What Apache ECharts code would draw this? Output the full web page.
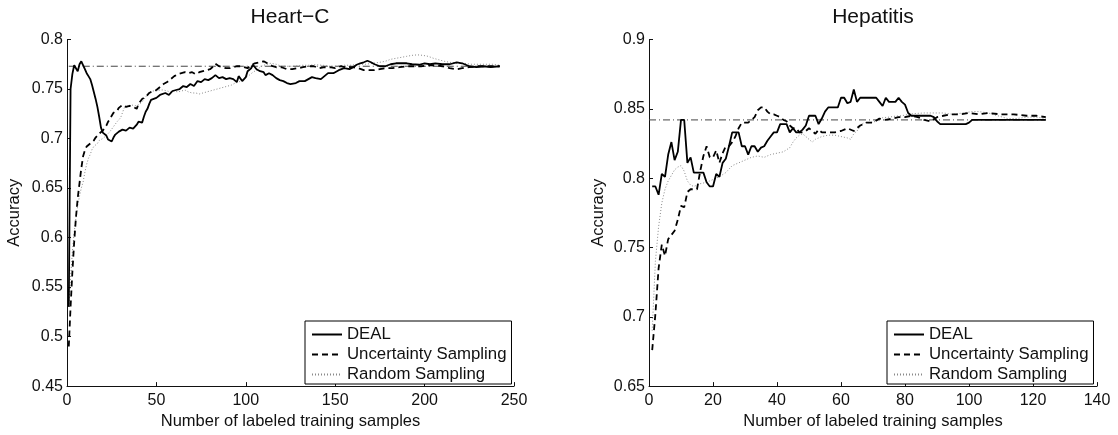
<!DOCTYPE html>
<html>
<head>
<meta charset="utf-8">
<script src="https://cdn.jsdelivr.net/npm/echarts@6/dist/echarts.min.js"></script>
<style>
  html, body { margin: 0; padding: 0; background: #fff; }
  #chart { width: 1118px; height: 435px; }
</style>
</head>
<body>
<div id="chart"></div>
<script>
// Accuracy vs. number of labeled training samples, two datasets.
const seriesNames = ['DEAL', 'Uncertainty Sampling', 'Random Sampling'];

// ---- Heart-C ----
const heartBaseline = 0.773;
const heartBaselineRange = [1, 242];
const heartDeal = [[1,0.53],[2,0.75],[3,0.765],[4,0.774],[5,0.772],[6,0.768],[7,0.775],[8,0.778],[9,0.777],[10,0.770],[11,0.766],[12,0.763],[13,0.760],[14,0.754],[15,0.747],[16,0.740],[17,0.732],[18,0.722],[19,0.711],[20,0.706],[21,0.705],[22,0.703],[23,0.699],[24,0.697],[25,0.697],[26,0.701],[27,0.704],[28,0.703],[29,0.707],[30,0.706],[31,0.709],[32,0.711],[33,0.708],[34,0.706],[35,0.711],[36,0.713],[37,0.710],[38,0.709],[39,0.714],[40,0.717],[41,0.719],[42,0.716],[43,0.722],[44,0.727],[45,0.730],[46,0.735],[47,0.739],[48,0.740],[50,0.741],[52,0.744],[53,0.742],[55,0.746],[57,0.744],[59,0.748],[61,0.749],[63,0.750],[65,0.753],[67,0.752],[69,0.755],[71,0.753],[73,0.758],[75,0.757],[77,0.760],[79,0.759],[81,0.761],[83,0.764],[85,0.761],[87,0.762],[89,0.760],[91,0.761],[93,0.760],[95,0.757],[96,0.763],[98,0.758],[100,0.762],[101,0.768],[103,0.771],[104,0.7745],[106,0.770],[108,0.768],[110,0.767],[111,0.764],[113,0.766],[115,0.764],[117,0.761],[119,0.759],[121,0.758],[123,0.756],[125,0.755],[126,0.754],[128,0.756],[130,0.758],[133,0.758],[135,0.760],[137,0.762],[139,0.761],[142,0.760],[144,0.763],[146,0.766],[149,0.766],[152,0.769],[155,0.771],[158,0.770],[160,0.772],[162,0.7745],[164,0.776],[166,0.777],[168,0.7785],[170,0.777],[172,0.775],[175,0.773],[178,0.773],[181,0.775],[184,0.776],[187,0.776],[190,0.776],[193,0.775],[197,0.7745],[200,0.776],[203,0.775],[206,0.776],[210,0.775],[214,0.775],[218,0.777],[221,0.776],[225,0.773],[229,0.772],[233,0.773],[237,0.772],[242,0.773]];
const heartUncertainty = [[1,0.49],[2,0.53],[3,0.565],[4,0.595],[5,0.62],[6,0.64],[7,0.655],[8,0.670],[9,0.682],[10,0.688],[11,0.692],[12,0.694],[13,0.695],[14,0.697],[15,0.698],[16,0.701],[17,0.703],[18,0.705],[20,0.708],[22,0.713],[23,0.717],[24,0.720],[25,0.723],[26,0.726],[28,0.728],[29,0.731],[31,0.734],[32,0.733],[33,0.732],[35,0.733],[36,0.734],[37,0.732],[39,0.730],[40,0.735],[42,0.740],[44,0.742],[46,0.746],[48,0.748],[50,0.749],[52,0.752],[54,0.755],[56,0.757],[58,0.760],[60,0.763],[62,0.765],[64,0.766],[66,0.767],[68,0.766],[70,0.767],[72,0.765],[74,0.767],[76,0.768],[78,0.769],[80,0.770],[82,0.773],[83,0.7755],[85,0.773],[87,0.772],[89,0.771],[91,0.771],[93,0.772],[95,0.773],[97,0.773],[99,0.772],[101,0.771],[103,0.774],[105,0.776],[108,0.777],[110,0.778],[112,0.776],[115,0.773],[117,0.772],[120,0.772],[123,0.770],[126,0.770],[129,0.771],[132,0.772],[135,0.773],[138,0.773],[141,0.771],[144,0.772],[147,0.772],[150,0.771],[153,0.773],[156,0.772],[160,0.772],[163,0.771],[166,0.769],[169,0.769],[172,0.769],[175,0.770],[178,0.771],[182,0.771],[186,0.772],[190,0.773],[194,0.773],[198,0.773],[202,0.774],[206,0.774],[210,0.773],[214,0.771],[218,0.770],[221,0.771],[225,0.772],[230,0.773],[236,0.773],[242,0.773]];
const heartRandom = [[1,0.53],[2,0.56],[3,0.585],[4,0.605],[5,0.62],[6,0.632],[7,0.642],[8,0.650],[9,0.656],[10,0.666],[11,0.674],[12,0.680],[13,0.684],[14,0.689],[15,0.692],[17,0.695],[18,0.698],[20,0.700],[22,0.703],[24,0.707],[26,0.712],[28,0.717],[30,0.721],[31,0.726],[32,0.731],[34,0.733],[36,0.734],[38,0.733],[40,0.734],[42,0.737],[44,0.742],[46,0.746],[48,0.748],[50,0.748],[52,0.749],[54,0.749],[56,0.748],[58,0.747],[60,0.748],[62,0.747],[64,0.748],[66,0.749],[68,0.747],[70,0.746],[72,0.746],[74,0.745],[76,0.746],[78,0.747],[80,0.748],[82,0.749],[84,0.750],[86,0.751],[88,0.752],[90,0.753],[92,0.754],[94,0.756],[96,0.757],[98,0.759],[100,0.762],[102,0.764],[104,0.767],[106,0.769],[108,0.772],[110,0.774],[112,0.775],[114,0.776],[117,0.775],[120,0.773],[123,0.773],[127,0.773],[131,0.774],[135,0.774],[139,0.7745],[143,0.774],[147,0.773],[151,0.773],[155,0.774],[159,0.774],[163,0.775],[167,0.775],[171,0.776],[175,0.777],[178,0.778],[181,0.780],[184,0.781],[187,0.782],[190,0.783],[193,0.784],[196,0.7845],[199,0.784],[202,0.783],[205,0.781],[208,0.7795],[211,0.778],[214,0.777],[218,0.776],[222,0.776],[226,0.775],[230,0.775],[234,0.775],[238,0.775],[242,0.774]];

// ---- Hepatitis ----
const hepBaseline = 0.842;
const hepBaselineRange = [0, 124];
const hepDeal = [[1,0.794],[2,0.794],[3,0.788],[4,0.803],[5,0.801],[6,0.817],[7,0.826],[8,0.813],[9,0.819],[10,0.842],[11,0.842],[12,0.811],[13,0.815],[14,0.804],[15,0.804],[16,0.804],[17,0.804],[18,0.797],[19,0.794],[20,0.794],[21,0.803],[22,0.801],[23,0.811],[24,0.814],[25,0.823],[26,0.833],[27,0.833],[28,0.833],[29,0.823],[30,0.823],[31,0.817],[32,0.823],[33,0.823],[34,0.819],[35,0.822],[36,0.823],[37,0.827],[38,0.830],[39,0.833],[40,0.833],[41,0.839],[42,0.839],[43,0.839],[44,0.833],[45,0.836],[46,0.833],[47,0.833],[48,0.835],[49,0.838],[50,0.845],[51,0.845],[52,0.845],[53,0.839],[54,0.843],[55,0.848],[56,0.851],[57,0.851],[58,0.851],[59,0.851],[60,0.858],[61,0.858],[62,0.854],[63,0.855],[64,0.864],[65,0.855],[66,0.858],[67,0.858],[68,0.858],[69,0.858],[70,0.858],[71,0.858],[72,0.855],[73,0.852],[74,0.858],[75,0.855],[76,0.855],[77,0.855],[78,0.858],[79,0.855],[80,0.853],[81,0.847],[82,0.845],[84,0.845],[86,0.845],[88,0.845],[89,0.844],[90,0.841],[91,0.839],[94,0.839],[97,0.839],[99,0.839],[100,0.840],[101,0.842],[104,0.842],[108,0.842],[112,0.842],[116,0.842],[120,0.842],[124,0.842]];
const hepUncertainty = [[1,0.676],[2,0.702],[3,0.735],[4,0.752],[5,0.744],[6,0.756],[7,0.759],[8,0.762],[9,0.770],[10,0.780],[11,0.779],[12,0.790],[13,0.792],[14,0.792],[15,0.792],[16,0.805],[17,0.816],[18,0.823],[19,0.815],[20,0.815],[21,0.820],[22,0.811],[23,0.818],[24,0.823],[25,0.823],[26,0.826],[27,0.830],[28,0.836],[29,0.840],[30,0.840],[31,0.840],[32,0.842],[33,0.844],[34,0.849],[35,0.851],[36,0.851],[37,0.848],[38,0.846],[39,0.846],[40,0.845],[41,0.844],[42,0.842],[43,0.841],[44,0.838],[45,0.836],[46,0.836],[47,0.833],[48,0.833],[49,0.834],[50,0.836],[51,0.834],[52,0.832],[53,0.835],[54,0.833],[56,0.833],[58,0.833],[60,0.834],[62,0.836],[64,0.834],[66,0.838],[68,0.840],[70,0.840],[72,0.843],[74,0.842],[76,0.843],[78,0.844],[80,0.844],[82,0.845],[84,0.844],[86,0.842],[88,0.841],[90,0.844],[92,0.845],[94,0.846],[97,0.846],[100,0.847],[103,0.846],[106,0.847],[110,0.846],[114,0.846],[118,0.845],[121,0.845],[124,0.844]];
const hepRandom = [[1,0.69],[2,0.74],[3,0.765],[4,0.782],[5,0.792],[6,0.798],[7,0.802],[8,0.806],[9,0.808],[10,0.809],[11,0.805],[12,0.798],[13,0.795],[14,0.794],[15,0.795],[16,0.796],[18,0.797],[20,0.799],[22,0.801],[24,0.804],[26,0.809],[28,0.811],[30,0.813],[32,0.815],[34,0.816],[36,0.815],[38,0.817],[40,0.818],[42,0.819],[44,0.822],[45,0.826],[46,0.829],[47,0.831],[48,0.832],[49,0.830],[50,0.828],[51,0.826],[52,0.828],[54,0.830],[56,0.831],[58,0.831],[60,0.830],[62,0.829],[63,0.828],[64,0.832],[65,0.834],[66,0.837],[67,0.840],[69,0.840],[71,0.841],[73,0.8436],[75,0.844],[77,0.8447],[79,0.845],[81,0.846],[83,0.8466],[86,0.847],[89,0.847],[92,0.847],[95,0.846],[98,0.847],[101,0.848],[103,0.848],[106,0.847],[109,0.845],[112,0.843],[115,0.843],[118,0.844],[121,0.844],[124,0.843]];

// Axis ranges and tick steps
const heartX = { min: 0, max: 250, step: 50 };
const heartY = { min: 0.45, max: 0.8, step: 0.05 };
const hepX = { min: 0, max: 140, step: 20 };
const hepY = { min: 0.65, max: 0.9, step: 0.05 };

const FONT = 'Liberation Sans, Arial, Helvetica, sans-serif';
const INK = '#111';

const lineStyles = {
  'DEAL': { color: '#000', width: 1.8, type: 'solid' },
  'Uncertainty Sampling': { color: '#000', width: 1.8, type: [6, 4] },
  'Random Sampling': { color: '#8a8a8a', width: 1, type: [1, 2] }
};

function makeXAxis(gridIndex, r) {
  return {
    type: 'value', gridIndex, min: r.min, max: r.max, interval: r.step,
    name: 'Number of labeled training samples', nameLocation: 'middle', nameGap: 21,
    nameTextStyle: { fontFamily: FONT, fontSize: 16.5, color: INK },
    axisLine: { show: true, onZero: false, lineStyle: { color: INK, width: 1 } },
    axisTick: { show: true, inside: true, length: 4, lineStyle: { color: INK } },
    axisLabel: { fontFamily: FONT, fontSize: 16, color: INK, margin: 6 },
    splitLine: { show: false }
  };
}
function makeYAxis(gridIndex, r, gap) {
  return {
    type: 'value', gridIndex, min: r.min, max: r.max, interval: r.step,
    name: 'Accuracy', nameLocation: 'middle', nameGap: gap, nameRotate: 90,
    nameTextStyle: { fontFamily: FONT, fontSize: 16.5, color: INK },
    axisLine: { show: true, onZero: false, lineStyle: { color: INK, width: 1 } },
    axisTick: { show: true, inside: true, length: 4, lineStyle: { color: INK } },
    axisLabel: { fontFamily: FONT, fontSize: 16, color: INK, margin: 4 },
    splitLine: { show: false }
  };
}
function curve(name, data, idx) {
  return {
    name, type: 'line', data, xAxisIndex: idx, yAxisIndex: idx,
    symbol: 'none', smooth: false, animation: false,
    lineStyle: lineStyles[name], itemStyle: { color: lineStyles[name].color },
    z: name === 'DEAL' ? 4 : 3
  };
}
function baseline(value, range, idx) {
  return {
    name: 'baseline', type: 'line', xAxisIndex: idx, yAxisIndex: idx,
    data: [[range[0], value], [range[1], value]], symbol: 'none', animation: false,
    lineStyle: { color: '#444', width: 1, type: [7, 3, 1, 3] }, z: 2, silent: true
  };
}
function makeLegend(left) {
  return {
    data: seriesNames, orient: 'vertical', left, top: 321,
    itemWidth: 30, itemHeight: 14, itemGap: 3,
    padding: [5, 5, 1, 6], borderColor: '#000', borderWidth: 1,
    backgroundColor: '#fff', selectedMode: false,
    itemStyle: { opacity: 0 },
    textStyle: { fontFamily: FONT, fontSize: 16.8, color: INK }
  };
}

const chart = echarts.init(document.getElementById('chart'), null, { renderer: 'canvas' });
chart.setOption({
  backgroundColor: '#fff',
  animation: false,
  title: [
    { text: 'Heart\u2212C', left: 290, top: 7, textAlign: 'center', padding: 0,
      textStyle: { fontFamily: FONT, fontSize: 21, fontWeight: 'normal', color: INK } },
    { text: 'Hepatitis', left: 873, top: 7, textAlign: 'center', padding: 0,
      textStyle: { fontFamily: FONT, fontSize: 21, fontWeight: 'normal', color: INK } }
  ],
  legend: [makeLegend(305), makeLegend(887)],
  grid: [
    { left: 67, top: 39.5, width: 447, height: 350 },
    { left: 649, top: 39.5, width: 448, height: 350 }
  ],
  xAxis: [makeXAxis(0, heartX), makeXAxis(1, hepX)],
  yAxis: [makeYAxis(0, heartY, 44), makeYAxis(1, hepY, 42)],
  series: [
    baseline(heartBaseline, heartBaselineRange, 0),
    curve('Random Sampling', heartRandom, 0),
    curve('Uncertainty Sampling', heartUncertainty, 0),
    curve('DEAL', heartDeal, 0),
    baseline(hepBaseline, hepBaselineRange, 1),
    curve('Random Sampling', hepRandom, 1),
    curve('Uncertainty Sampling', hepUncertainty, 1),
    curve('DEAL', hepDeal, 1)
  ]
});
</script>
</body>
</html>
